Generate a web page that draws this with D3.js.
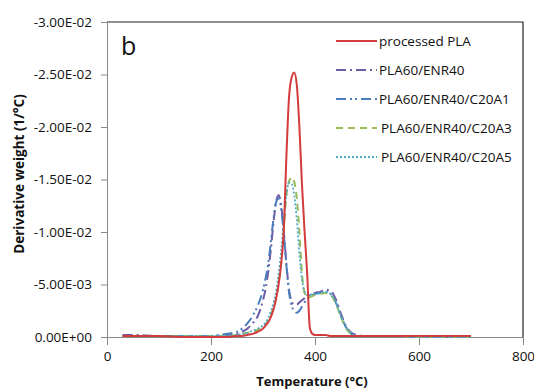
<!DOCTYPE html>
<html><head><meta charset="utf-8">
<script src="https://cdn.jsdelivr.net/npm/d3@7"></script>
<style>
html,body{margin:0;padding:0;background:#fff;}
svg{display:block;font-family:"Open Sans","Noto Sans",sans-serif;}
</style></head>
<body><svg id="c" width="534" height="392"></svg>
<script>
const temps = [30,50,100,150,200,230,250,260,270,280,290,300,305,310,315,320,325,330,335,340,345,350,355,360,365,370,375,380,385,390,395,400,410,420,430,440,450,460,470,480,500,550,600,650,700];
const processedPLA = [-0.0001,-0.0001,-0.0001,0,0,0,-0.0001,-0.0001,-0.0002,-0.0003,-0.0005,-0.0008,-0.0011,-0.0014,-0.0019,-0.0026,-0.0036,-0.0050,-0.0070,-0.0102,-0.0172,-0.0228,-0.0247,-0.0252,-0.0240,-0.0200,-0.0145,-0.0100,-0.0060,-0.0009,-0.0003,-0.0002,-0.0002,-0.0002,-0.0001,-0.0001,-0.0001,-0.0001,-0.0001,-0.0001,-0.0001,-0.0001,-0.0001,-0.0001,-0.0001];
const enr40 = [-0.0002,-0.0002,-0.0001,-0.0001,-0.0001,-0.0002,-0.0003,-0.0005,-0.0008,-0.0013,-0.0020,-0.0035,-0.0046,-0.0062,-0.0083,-0.0108,-0.0128,-0.0135,-0.0125,-0.0100,-0.0070,-0.0045,-0.0034,-0.0031,-0.0031,-0.0033,-0.0035,-0.0037,-0.0039,-0.0040,-0.0041,-0.0042,-0.0043,-0.0045,-0.0044,-0.0036,-0.0022,-0.0010,-0.0004,-0.0002,-0.0001,-0.0001,0,0,0];
const c20a1 = [-0.0001,-0.0001,-0.0001,-0.0001,-0.0001,-0.0003,-0.0005,-0.0008,-0.0013,-0.0020,-0.0030,-0.0045,-0.0056,-0.0070,-0.0090,-0.0112,-0.0128,-0.0132,-0.0122,-0.0098,-0.0068,-0.0043,-0.0030,-0.0025,-0.0023,-0.0025,-0.0029,-0.0033,-0.0036,-0.0038,-0.0040,-0.0041,-0.0042,-0.0043,-0.0041,-0.0033,-0.0020,-0.0009,-0.0003,-0.0001,-0.0001,-0.0001,0,0,0];
const c20a3 = [-0.0001,-0.0001,-0.0001,-0.0001,-0.0001,-0.0001,-0.0002,-0.0003,-0.0004,-0.0005,-0.0007,-0.0010,-0.0012,-0.0016,-0.0021,-0.0028,-0.0037,-0.0051,-0.0071,-0.0102,-0.0135,-0.0148,-0.0152,-0.0148,-0.0132,-0.0100,-0.0060,-0.0042,-0.0038,-0.0038,-0.0039,-0.0040,-0.0041,-0.0042,-0.0040,-0.0032,-0.0019,-0.0008,-0.0003,-0.0001,-0.0001,-0.0001,0,0,0];
const c20a5 = [-0.0001,-0.0001,-0.0001,-0.0001,-0.0001,-0.0001,-0.0002,-0.0003,-0.0004,-0.0006,-0.0008,-0.0011,-0.0014,-0.0018,-0.0024,-0.0032,-0.0043,-0.0060,-0.0082,-0.0110,-0.0135,-0.0147,-0.0146,-0.0135,-0.0112,-0.0080,-0.0055,-0.0043,-0.0040,-0.0040,-0.0041,-0.0041,-0.0042,-0.0043,-0.0041,-0.0033,-0.0020,-0.0009,-0.0003,-0.0001,-0.0001,-0.0001,0,0,0];
const seriesNames = ["processed PLA","PLA60/ENR40","PLA60/ENR40/C20A1","PLA60/ENR40/C20A3","PLA60/ENR40/C20A5"];
const seriesValues = [processedPLA, enr40, c20a1, c20a3, c20a5];
const seriesColors = ["#d23c3c","#6f5ca8","#4a7ebb","#9bbb59","#4bacc6"];
const seriesDash = [null,"10,4,2,4","10,4,2,3,2,4","7,5","2,2"];
const seriesWidth = [2,2,2,2,1.8];
const legendTextX = [379,379,379,381,381];
const xTicks = [0,200,400,600,800];
const yTicks = [0,-0.005,-0.01,-0.015,-0.02,-0.025,-0.03];
const yTickLabels = ["0.00E+00","-5.00E-03","-1.00E-02","-1.50E-02","-2.00E-02","-2.50E-02","-3.00E-02"];

const svg = d3.select("#c");
const L=107, R=523, T=22, B=337;
const x = d3.scaleLinear().domain([0,800]).range([L,R]);
const y = d3.scaleLinear().domain([0,-0.03]).range([B,T]);

svg.append("path").attr("d",`M${L},${T}H${R}V${B}`).attr("fill","none").attr("stroke","#222").attr("stroke-width",1.2);

const xAxis = svg.append("g").attr("transform",`translate(0,${B})`)
  .call(d3.axisBottom(x).tickValues(xTicks).tickSize(8).tickSizeOuter(0).tickPadding(5).tickFormat(d3.format("d")));
const yAxis = svg.append("g").attr("transform",`translate(${L},0)`)
  .call(d3.axisLeft(y).tickValues(yTicks).tickSize(6).tickSizeOuter(0).tickPadding(9).tickFormat((d,i)=>yTickLabels[i]));
[xAxis,yAxis].forEach(g=>{
  g.select(".domain").attr("stroke","#888");
  g.selectAll(".tick line").attr("stroke","#888");
  g.selectAll(".tick text").attr("fill","#111").style("font-size","13.5px").style("font-family","'Open Sans',sans-serif");
});
xAxis.selectAll(".tick text").attr("dy","0.85em");

const line = d3.line().x((d,i)=>x(temps[i])).y(d=>y(d)).curve(d3.curveMonotoneX);
const order = [1,2,3,4,0];
order.forEach(k=>{
  svg.append("path").datum(seriesValues[k]).attr("d",line)
    .attr("fill","none").attr("stroke",seriesColors[k]).attr("stroke-width",seriesWidth[k])
    .attr("stroke-dasharray",seriesDash[k]).attr("stroke-linejoin","round");
});

const lg = svg.append("g");
seriesNames.forEach((n,i)=>{
  const yy = 41 + i*29;
  lg.append("line").attr("x1",336).attr("x2",377).attr("y1",yy).attr("y2",yy)
    .attr("stroke",seriesColors[i]).attr("stroke-width",seriesWidth[i]).attr("stroke-dasharray",seriesDash[i]);
  lg.append("text").attr("x",legendTextX[i]).attr("y",yy).attr("dy","0.35em").text(n)
    .style("font-size","13.5px").attr("fill","#111");
});

svg.append("text").attr("x",121).attr("y",55).text("b").style("font-size","25px").attr("fill","#111");

svg.append("text").attr("x",312).attr("y",386).attr("text-anchor","middle").text("Temperature (°C)")
  .style("font-size","13px").style("font-weight","bold").attr("fill","#111");
svg.append("text").attr("transform","translate(24,174) rotate(-90)").attr("text-anchor","middle")
  .text("Derivative weight (1/°C)").style("font-size","13.5px").style("font-weight","bold").attr("fill","#111");
</script></body></html>
